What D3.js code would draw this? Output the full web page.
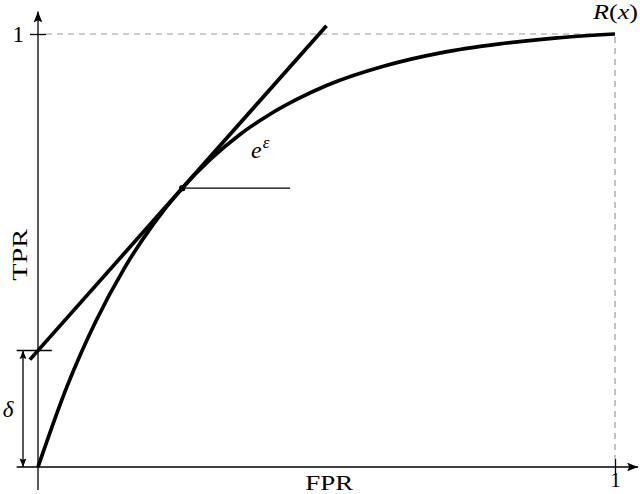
<!DOCTYPE html>
<html>
  <head>
    <meta charset="utf-8" />
    <title>ROC tangent</title>
    <script src="https://cdn.jsdelivr.net/npm/d3@7/dist/d3.min.js"></script>
    <style>
      body { margin: 0; background: #fff; }
      svg text { font-family: "Liberation Serif", "Times New Roman", serif; fill: #000; }
    </style>
  </head>
  <body>
    <div id="canvas"></div>
  </body>
  <script>
    // values
    const fpr = [0, 0.05, 0.1, 0.15, 0.2, 0.25, 0.3, 0.35, 0.4, 0.45, 0.5, 0.6, 0.7, 0.8, 0.9, 1];
    const tpr = [0, 0.185, 0.336, 0.46, 0.561, 0.644, 0.712, 0.768, 0.813, 0.85, 0.881, 0.926, 0.957, 0.977, 0.991, 1];
    const tangentPoint = [0.25, 0.644];
    const slope = 1.5; // e^eps
    const tangentSpan = [-0.014, 0.5];
    const hLineEnd = 0.437;
    const xTicks = [1];
    const yTicks = [1];

    const width = 640;
    const height = 494;
    const serif = "'Liberation Serif', 'Times New Roman', serif";

    const x = d3.scaleLinear().domain([0, 1]).range([38, 615]);
    const y = d3.scaleLinear().domain([0, 1]).range([467, 34]);

    const svg = d3
      .create("svg")
      .attr("width", width)
      .attr("height", height)
      .attr("viewBox", [0, 0, width, height]);

    const defs = svg.append("defs");
    // latex style arrow heads
    defs.append("marker")
      .attr("id", "arrow")
      .attr("viewBox", "0 0 10 8")
      .attr("refX", 10).attr("refY", 4)
      .attr("markerWidth", 11).attr("markerHeight", 8.8)
      .attr("markerUnits", "userSpaceOnUse")
      .attr("orient", "auto")
      .append("path")
      .attr("d", "M0,0 L10,4 L0,8 L2,4 Z")
      .attr("fill", "#000");
    defs.append("marker")
      .attr("id", "arrowSmall")
      .attr("viewBox", "0 0 10 8")
      .attr("refX", 10).attr("refY", 4)
      .attr("markerWidth", 9).attr("markerHeight", 7)
      .attr("markerUnits", "userSpaceOnUse")
      .attr("orient", "auto-start-reverse")
      .append("path")
      .attr("d", "M0,0 L10,4 L0,8 L2,4 Z")
      .attr("fill", "#000");

    // dashed guides to (1,1)
    svg.append("path")
      .attr("d", `M${x(0) + 8},${y(1)} H${x(1)} V${y(0) - 8}`)
      .attr("fill", "none")
      .attr("stroke", "#9a9a9a")
      .attr("stroke-width", 1.2)
      .attr("stroke-dasharray", "6,5");

    // axes lines with arrows
    svg.append("line")
      .attr("x1", x(-0.037)).attr("x2", x(1.04))
      .attr("y1", y(0)).attr("y2", y(0))
      .attr("stroke", "#000").attr("stroke-width", 1.3)
      .attr("marker-end", "url(#arrow)");
    svg.append("line")
      .attr("x1", x(0)).attr("x2", x(0))
      .attr("y1", y(-0.053)).attr("y2", y(1.052))
      .attr("stroke", "#000").attr("stroke-width", 1.3)
      .attr("marker-end", "url(#arrow)");

    // ticks through d3 axes
    const xAxis = svg.append("g")
      .attr("transform", `translate(0,${y(0) - 8})`)
      .call(d3.axisBottom(x).tickValues(xTicks).tickSize(16).tickPadding(0).tickFormat(d3.format("d")))
      .call((g) => g.select(".domain").remove());
    xAxis.attr("font-family", serif);
    xAxis.selectAll(".tick line").attr("stroke", "#000").attr("stroke-width", 1.3);
    xAxis.selectAll(".tick text")
      .attr("font-size", 21)
      .attr("dy", "0.55em")
      .attr("fill", "#000");

    const yAxis = svg.append("g")
      .attr("transform", `translate(${x(0) + 8},0)`)
      .call(d3.axisLeft(y).tickValues(yTicks).tickSize(16).tickPadding(6).tickFormat(d3.format("d")))
      .call((g) => g.select(".domain").remove());
    yAxis.attr("font-family", serif);
    yAxis.selectAll(".tick line").attr("stroke", "#000").attr("stroke-width", 1.3);
    yAxis.selectAll(".tick text")
      .attr("font-size", 23)
      .attr("fill", "#000");

    // delta marker
    const delta = tangentPoint[1] - slope * tangentPoint[0];
    svg.append("line")
      .attr("x1", x(-0.037)).attr("x2", x(0.024))
      .attr("y1", y(delta)).attr("y2", y(delta))
      .attr("stroke", "#000").attr("stroke-width", 1.3);
    svg.append("line")
      .attr("x1", x(-0.026)).attr("x2", x(-0.026))
      .attr("y1", y(delta)).attr("y2", y(0))
      .attr("stroke", "#000").attr("stroke-width", 1.3)
      .attr("marker-start", "url(#arrowSmall)")
      .attr("marker-end", "url(#arrowSmall)");
    svg.append("text")
      .attr("x", 8).attr("y", y(delta / 2) + 8)
      .attr("text-anchor", "middle")
      .attr("font-size", 23)
      .attr("font-style", "italic")
      .text("δ");

    // ROC curve
    const line = d3.line()
      .x((d, i) => x(fpr[i]))
      .y((d, i) => y(tpr[i]))
      .curve(d3.curveMonotoneX);
    svg.append("path")
      .datum(tpr)
      .attr("d", line)
      .attr("fill", "none")
      .attr("stroke", "#000")
      .attr("stroke-width", 3.7)
      .attr("stroke-linecap", "butt");

    // tangent line
    const tl = (t) => tangentPoint[1] + slope * (t - tangentPoint[0]);
    svg.append("line")
      .attr("x1", x(tangentSpan[0])).attr("y1", y(tl(tangentSpan[0])))
      .attr("x2", x(tangentSpan[1])).attr("y2", y(tl(tangentSpan[1])))
      .attr("stroke", "#000")
      .attr("stroke-width", 3.7);

    // horizontal reference from tangent point
    svg.append("line")
      .attr("x1", x(tangentPoint[0])).attr("y1", y(tangentPoint[1]))
      .attr("x2", x(hLineEnd)).attr("y2", y(tangentPoint[1]))
      .attr("stroke", "#000")
      .attr("stroke-width", 1.3);
    svg.append("circle")
      .attr("cx", x(tangentPoint[0])).attr("cy", y(tangentPoint[1]))
      .attr("r", 3.2)
      .attr("fill", "#000");

    // e^eps label
    const eps = svg.append("text")
      .attr("x", 251).attr("y", 158)
      .attr("font-size", 24)
      .attr("font-style", "italic");
    eps.append("tspan").text("e");
    eps.append("tspan").attr("dx", 1).attr("dy", -10).attr("font-size", 17).text("ε");

    // R(x) label
    const rx = svg.append("text")
      .attr("x", 593).attr("y", 19)
      .attr("font-size", 21)
      .attr("textLength", 45)
      .attr("lengthAdjust", "spacingAndGlyphs");
    rx.append("tspan").attr("font-style", "italic").text("R");
    rx.append("tspan").text("(");
    rx.append("tspan").attr("font-style", "italic").text("x");
    rx.append("tspan").text(")");

    // axis titles
    svg.append("text")
      .attr("x", x(0.505)).attr("y", 490)
      .attr("text-anchor", "middle")
      .attr("font-size", 20)
      .attr("textLength", 48)
      .attr("lengthAdjust", "spacingAndGlyphs")
      .text("FPR");
    svg.append("text")
      .attr("transform", `translate(27,${y(0.49)}) rotate(-90)`)
      .attr("text-anchor", "middle")
      .attr("font-size", 20)
      .attr("textLength", 52)
      .attr("lengthAdjust", "spacingAndGlyphs")
      .text("TPR");

    canvas.append(svg.node());
  </script>
</html>
